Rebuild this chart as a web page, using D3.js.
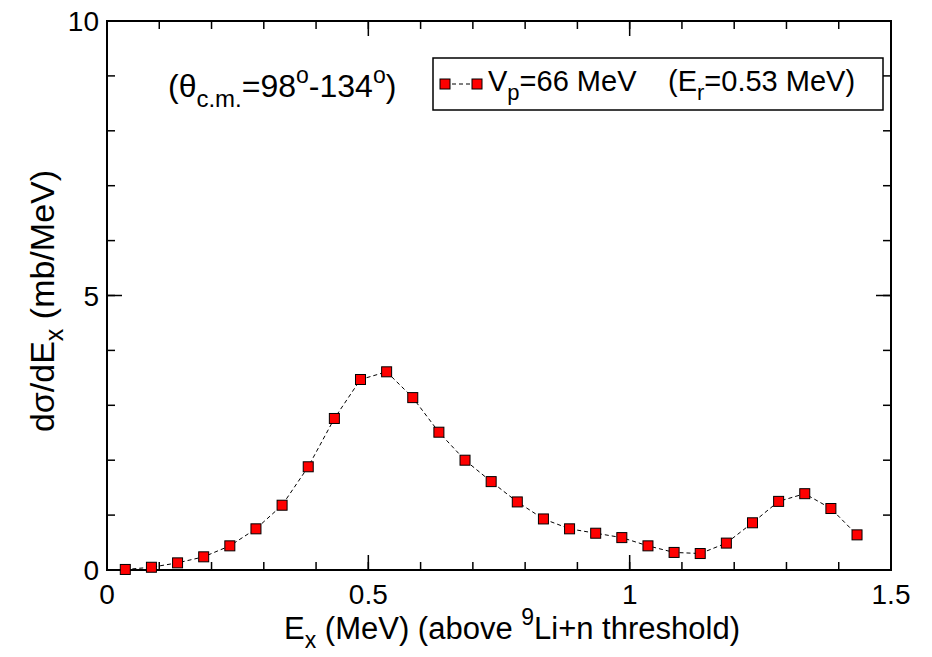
<!DOCTYPE html>
<html>
<head>
<meta charset="utf-8">
<script src="https://cdn.jsdelivr.net/npm/d3@7"></script>
<style>
  body { margin: 0; background: #fff; }
  svg { display: block; }
</style>
</head>
<body>
<div id="chart"></div>
<script>
// data
var energies = [0.035, 0.085, 0.135, 0.185, 0.235, 0.285, 0.335, 0.385, 0.435, 0.485,
	0.535, 0.585, 0.635, 0.685, 0.735, 0.785, 0.835, 0.885, 0.935, 0.985,
	1.035, 1.085, 1.135, 1.185, 1.235, 1.285, 1.335, 1.385, 1.435];
var crossSection = [0.01, 0.05, 0.13, 0.24, 0.44, 0.75, 1.18, 1.88, 2.76, 3.47,
	3.61, 3.14, 2.51, 2.00, 1.61, 1.24, 0.93, 0.75, 0.67, 0.59,
	0.44, 0.32, 0.30, 0.49, 0.86, 1.25, 1.39, 1.12, 0.64];
var xMajorTicks = [0, 0.5, 1, 1.5];
var xMinorTicks = d3.range(0, 1.5001, 0.1);
var yMajorTicks = [0, 5, 10];
var yMinorTicks = d3.range(0, 10.001, 1);

var width = 932, height = 657;
var margin = {left: 107, right: 41, top: 21, bottom: 87};
var fontFamily = "'Liberation Sans', Arial, sans-serif";
var fontSize = 28;

var svg = d3.select("#chart").append("svg")
	.attr("width", width)
	.attr("height", height);

var x = d3.scaleLinear()
	.domain([0, 1.5])
	.range([margin.left, width - margin.right]);
var y = d3.scaleLinear()
	.domain([0, 10])
	.range([height - margin.bottom, margin.top]);

var x0 = x.range()[0], x1 = x.range()[1];
var y0 = y.range()[0], y1 = y.range()[1];

// ticks on all four sides, pointing inward
function tickLines(vals, len, axis){
	var g = svg.append("g").attr("stroke", "#000").attr("stroke-width", 1.5);
	vals.forEach(function(v){
		if(axis == "x"){
			g.append("line").attr("x1", x(v)).attr("x2", x(v)).attr("y1", y0).attr("y2", y0 - len);
			g.append("line").attr("x1", x(v)).attr("x2", x(v)).attr("y1", y1).attr("y2", y1 + len);
		} else {
			g.append("line").attr("y1", y(v)).attr("y2", y(v)).attr("x1", x0).attr("x2", x0 + len);
			g.append("line").attr("y1", y(v)).attr("y2", y(v)).attr("x1", x1).attr("x2", x1 - len);
		}
	});
}
tickLines(xMinorTicks, 8, "x");
tickLines(xMajorTicks, 15, "x");
tickLines(yMinorTicks, 8, "y");
tickLines(yMajorTicks, 15, "y");

// frame
svg.append("rect")
	.attr("x", x0).attr("y", y1)
	.attr("width", x1 - x0).attr("height", y0 - y1)
	.attr("fill", "none")
	.attr("stroke", "#000")
	.attr("stroke-width", 2);

// tick labels
svg.append("g").selectAll("text")
	.data(xMajorTicks).enter().append("text")
	.attr("x", function(d){ return x(d); })
	.attr("y", y0 + 34)
	.attr("font-family", fontFamily)
	.attr("font-size", fontSize)
	.style("text-anchor", "middle")
	.text(function(d){ return d; });

svg.append("g").selectAll("text")
	.data(yMajorTicks).enter().append("text")
	.attr("x", x0 - 8)
	.attr("y", function(d){ return y(d) + 10; })
	.attr("font-family", fontFamily)
	.attr("font-size", fontSize)
	.style("text-anchor", "end")
	.text(function(d){ return d; });

// axis titles
var xTitle = svg.append("text")
	.attr("x", 512)
	.attr("y", 639)
	.attr("font-family", fontFamily)
	.attr("font-size", 31)
	.style("text-anchor", "middle");
xTitle.append("tspan").text("E");
xTitle.append("tspan").attr("dy", 9).attr("font-size", 23).text("x");
xTitle.append("tspan").attr("dy", -9).text(" (MeV) (above ");
xTitle.append("tspan").attr("dy", -14).attr("font-size", 23).text("9");
xTitle.append("tspan").attr("dy", 14).text("Li+n threshold)");

var yTitle = svg.append("text")
	.attr("transform", "translate(54,301) rotate(-90)")
	.attr("font-family", fontFamily)
	.attr("font-size", 34)
	.style("text-anchor", "middle");
yTitle.append("tspan").text("d\u03c3/dE");
yTitle.append("tspan").attr("dy", 9).attr("font-size", 25).text("x");
yTitle.append("tspan").attr("dy", -9).text(" (mb/MeV)");

// angle annotation
var angle = svg.append("text")
	.attr("x", 168)
	.attr("y", 97)
	.attr("font-family", fontFamily)
	.attr("font-size", 32);
angle.append("tspan").text("(\u03b8");
angle.append("tspan").attr("dy", 10).attr("font-size", 24).text("c.m.");
angle.append("tspan").attr("dy", -10).text("=98");
angle.append("tspan").attr("dy", -14).attr("font-size", 23).text("o");
angle.append("tspan").attr("dy", 14).text("-134");
angle.append("tspan").attr("dy", -14).attr("font-size", 23).text("o");
angle.append("tspan").attr("dy", 14).text(")");

// data line and markers
var line = d3.line()
	.x(function(d, i){ return x(energies[i]); })
	.y(function(d){ return y(d); });

svg.append("path")
	.datum(crossSection)
	.attr("d", line)
	.attr("fill", "none")
	.attr("stroke", "#000")
	.attr("stroke-width", 1)
	.attr("stroke-dasharray", "4,3");

var ms = 10;
svg.append("g").selectAll("rect")
	.data(crossSection).enter().append("rect")
	.attr("x", function(d, i){ return x(energies[i]) - ms / 2; })
	.attr("y", function(d){ return y(d) - ms / 2; })
	.attr("width", ms)
	.attr("height", ms)
	.attr("fill", "#ff0000")
	.attr("stroke", "#000")
	.attr("stroke-width", 1);

// legend
var legend = svg.append("g");
legend.append("rect")
	.attr("x", 433).attr("y", 58)
	.attr("width", 450).attr("height", 52)
	.attr("fill", "#fff")
	.attr("stroke", "#000")
	.attr("stroke-width", 1.5);
legend.append("line")
	.attr("x1", 445).attr("x2", 477)
	.attr("y1", 84).attr("y2", 84)
	.attr("stroke", "#000")
	.attr("stroke-width", 1)
	.attr("stroke-dasharray", "4,3");
[445, 477].forEach(function(cx){
	legend.append("rect")
		.attr("x", cx - ms / 2).attr("y", 84 - ms / 2)
		.attr("width", ms).attr("height", ms)
		.attr("fill", "#ff0000")
		.attr("stroke", "#000")
		.attr("stroke-width", 1);
});
var legText = legend.append("text")
	.attr("x", 488)
	.attr("y", 91)
	.attr("font-family", fontFamily)
	.attr("font-size", 29);
legText.append("tspan").text("V");
legText.append("tspan").attr("dy", 9).attr("font-size", 22).text("p");
legText.append("tspan").attr("dy", -9).text("=66 MeV");

var legText2 = legend.append("text")
	.attr("x", 668)
	.attr("y", 91)
	.attr("font-family", fontFamily)
	.attr("font-size", 29);
legText2.append("tspan").text("(E");
legText2.append("tspan").attr("dy", 9).attr("font-size", 22).text("r");
legText2.append("tspan").attr("dy", -9).text("=0.53 MeV)");
</script>
</body>
</html>
